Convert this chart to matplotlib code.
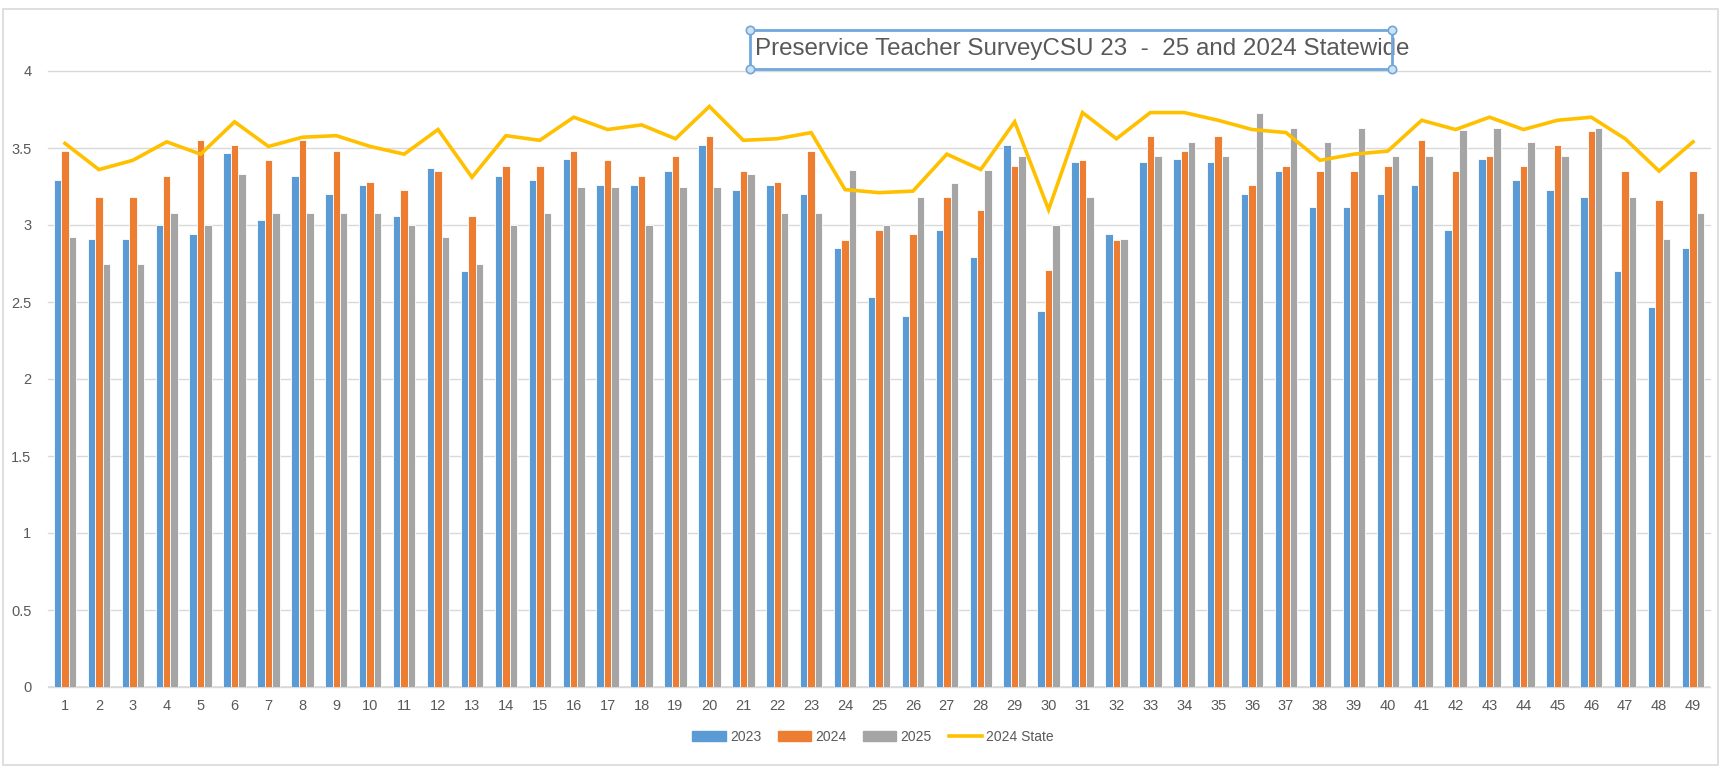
import numpy as np
import matplotlib
matplotlib.use("Agg")
import matplotlib.pyplot as plt
from matplotlib.patches import Rectangle, Patch
from matplotlib.lines import Line2D

plt.rcParams['font.family'] = ['Liberation Sans', 'DejaVu Sans']

# survey items 1..49
items = [str(i) for i in range(1, 50)]

y2023 = [3.29, 2.91, 2.91, 3.00, 2.94, 3.47, 3.03, 3.32, 3.20, 3.26,
         3.06, 3.37, 2.70, 3.32, 3.29, 3.43, 3.26, 3.26, 3.35, 3.52,
         3.23, 3.26, 3.20, 2.85, 2.53, 2.41, 2.97, 2.79, 3.52, 2.44,
         3.41, 2.94, 3.41, 3.43, 3.41, 3.20, 3.35, 3.12, 3.12, 3.20,
         3.26, 2.97, 3.43, 3.29, 3.23, 3.18, 2.70, 2.47, 2.85]
y2024 = [3.48, 3.18, 3.18, 3.32, 3.55, 3.52, 3.42, 3.55, 3.48, 3.28,
         3.23, 3.35, 3.06, 3.38, 3.38, 3.48, 3.42, 3.32, 3.45, 3.58,
         3.35, 3.28, 3.48, 2.90, 2.97, 2.94, 3.18, 3.10, 3.38, 2.71,
         3.42, 2.90, 3.58, 3.48, 3.58, 3.26, 3.38, 3.35, 3.35, 3.38,
         3.55, 3.35, 3.45, 3.38, 3.52, 3.61, 3.35, 3.16, 3.35]
y2025 = [2.92, 2.75, 2.75, 3.08, 3.00, 3.33, 3.08, 3.08, 3.08, 3.08,
         3.00, 2.92, 2.75, 3.00, 3.08, 3.25, 3.25, 3.00, 3.25, 3.25,
         3.33, 3.08, 3.08, 3.36, 3.00, 3.18, 3.27, 3.36, 3.45, 3.00,
         3.18, 2.91, 3.45, 3.54, 3.45, 3.73, 3.63, 3.54, 3.63, 3.45,
         3.45, 3.62, 3.63, 3.54, 3.45, 3.63, 3.18, 2.91, 3.08]
state2024 = [3.53, 3.36, 3.42, 3.54, 3.46, 3.67, 3.51, 3.57, 3.58, 3.51,
             3.46, 3.62, 3.31, 3.58, 3.55, 3.70, 3.62, 3.65, 3.56, 3.77,
             3.55, 3.56, 3.60, 3.23, 3.21, 3.22, 3.46, 3.36, 3.67, 3.10,
             3.73, 3.56, 3.73, 3.73, 3.68, 3.62, 3.60, 3.42, 3.46, 3.48,
             3.68, 3.62, 3.70, 3.62, 3.68, 3.70, 3.56, 3.35, 3.54]

c_blue = '#5B9BD5'
c_orange = '#ED7D31'
c_gray = '#A5A5A5'
c_gold = '#FFC000'
txt = '#595959'

fig = plt.figure(figsize=(17.21, 7.68), dpi=100)
ax = fig.add_axes([48 / 1721, 81 / 768, 1662 / 1721, 616 / 768])

x = np.arange(len(items))
w = 0.22
ax.bar(x - w, y2023, w, color=c_blue, edgecolor='white', linewidth=0.6, zorder=2)
ax.bar(x, y2024, w, color=c_orange, edgecolor='white', linewidth=0.6, zorder=2)
ax.bar(x + w, y2025, w, color=c_gray, edgecolor='white', linewidth=0.6, zorder=2)
ax.plot(x, state2024, color=c_gold, linewidth=2.6, solid_joinstyle='miter', zorder=3)

ax.set_xlim(-0.5, len(items) - 0.5)
ax.set_ylim(0, 4)
ax.set_yticks(np.arange(0, 4.01, 0.5))
ax.set_yticklabels(['0', '0.5', '1', '1.5', '2', '2.5', '3', '3.5', '4'])
ax.set_xticks(x)
ax.set_xticklabels(items)
ax.tick_params(axis='both', length=0, colors=txt, labelsize=10.5)
ax.tick_params(axis='y', pad=12)
ax.tick_params(axis='x', pad=9)
for s in ax.spines.values():
    s.set_visible(False)
ax.yaxis.grid(True, color='#D9D9D9', linewidth=1, zorder=0)
ax.axhline(0, color='#D9D9D9', linewidth=1.2, zorder=1)
for gl in ax.get_ygridlines():
    gl.set_clip_on(False)

# title in selected text box
bx0, by0, bx1, by1 = 750 / 1721, 1 - 69 / 768, 1392 / 1721, 1 - 30 / 768
fig.add_artist(Rectangle((bx0, by0), bx1 - bx0, by1 - by0, transform=fig.transFigure,
                         fill=False, edgecolor='#6FA8DC', linewidth=2.0, zorder=5))
fig.add_artist(Line2D([bx0, bx1, bx0, bx1], [by0, by0, by1, by1], transform=fig.transFigure,
                      linestyle='none', marker='o', markersize=6, markerfacecolor='#CFE2F3',
                      markeredgecolor='#6FA8DC', markeredgewidth=1.2, zorder=6))
fig.text(755 / 1721, (by0 + by1) / 2, 'Preservice Teacher SurveyCSU 23  -  25 and 2024 Statewide',
         ha='left', va='center', fontsize=17.4, color=txt)

# legend
handles = [Patch(color=c_blue), Patch(color=c_orange), Patch(color=c_gray),
           Line2D([], [], color=c_gold, linewidth=2.6)]
fig.legend(handles, ['2023', '2024', '2025', '2024 State'], loc='center',
           bbox_to_anchor=(873 / 1721, 31 / 768), ncol=4, frameon=False,
           fontsize=10, labelcolor=txt, handlelength=2.4, handleheight=0.7,
           columnspacing=1.2, handletextpad=0.3)

# outer chart border
fig.add_artist(Rectangle((3 / 1721, 3 / 768), 1715 / 1721, 756 / 768, transform=fig.transFigure,
                         fill=False, edgecolor='#D9D9D9', linewidth=1.2))

plt.savefig('out.png', dpi=100)
